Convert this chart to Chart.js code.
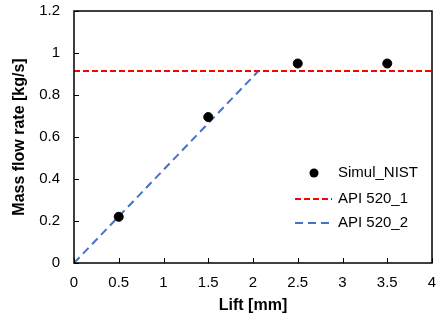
<!DOCTYPE html>
<html>
<head>
<meta charset="utf-8">
<script src="https://cdn.jsdelivr.net/npm/chart.js@4"></script>
<style>
  body { margin: 0; background: #fff; }
  #wrap { width: 447px; height: 321px; }
</style>
</head>
<body>
<div id="wrap"><canvas id="flowChart"></canvas></div>
<script>
const chartArea = document.getElementById("flowChart");

// data
var simLift = [0.5, 1.5, 2.5, 3.5];
var simFlow = [0.22, 0.695, 0.95, 0.95];
var api1Lift = [0, 4];
var api1Flow = [0.914, 0.914];
var api2Lift = [0, 2.06];
var api2Flow = [0, 0.914];
var seriesNames = ["Simul_NIST", "API 520_1", "API 520_2"];

function toPoints(xs, ys) {
    var pts = [];
    for (var i = 0; i < xs.length; i++) {
        pts.push({ x: xs[i], y: ys[i] });
    }
    return pts;
}

//plain number labels: 0, 0.5, 1 ...
function plainLabel(value) {
    return String(Math.round(value * 10) / 10);
}

//frame, inner ticks and the legend inside the plot
const framePlugin = {
    id: "frame",
    afterDraw(chart) {
        const ctx = chart.ctx;
        const a = chart.chartArea;
        const xs = chart.scales.x;
        const ys = chart.scales.y;
        ctx.save();
        ctx.strokeStyle = "#000";
        ctx.lineWidth = 1.5;
        ctx.strokeRect(a.left, a.top, a.right - a.left, a.bottom - a.top);
        ctx.lineWidth = 1;
        ctx.beginPath();
        xs.ticks.forEach(function (t) {
            var px = Math.round(xs.getPixelForValue(t.value)) + 0.5;
            ctx.moveTo(px, a.bottom);
            ctx.lineTo(px, a.bottom - 5);
        });
        ys.ticks.forEach(function (t) {
            var py = Math.round(ys.getPixelForValue(t.value)) + 0.5;
            ctx.moveTo(a.left, py);
            ctx.lineTo(a.left + 5, py);
        });
        ctx.stroke();

        // legend
        var ds = chart.data.datasets;
        var textX = 338;
        var rowY = [173, 199, 223];
        ctx.font = "15px 'Liberation Sans', Arial, sans-serif";
        ctx.textBaseline = "middle";
        for (var i = 0; i < ds.length; i++) {
            var y = rowY[i];
            if (i === 0) {
                ctx.beginPath();
                ctx.arc(314, y, 4.5, 0, Math.PI * 2);
                ctx.fillStyle = ds[i].backgroundColor;
                ctx.fill();
            } else {
                ctx.beginPath();
                ctx.setLineDash(ds[i].borderDash);
                ctx.strokeStyle = ds[i].borderColor;
                ctx.lineWidth = ds[i].borderWidth;
                ctx.moveTo(295, y);
                ctx.lineTo(332, y);
                ctx.stroke();
                ctx.setLineDash([]);
            }
            ctx.fillStyle = "#000";
            ctx.fillText(ds[i].label, textX, y);
        }
        ctx.restore();
    }
};

var flowChart = new Chart(chartArea, {
    type: "scatter",
    data: {
        datasets: [{
            label: seriesNames[0],
            data: toPoints(simLift, simFlow),
            backgroundColor: "#000",
            borderColor: "#000",
            pointRadius: 4.5,
            showLine: false
        }, {
            label: seriesNames[1],
            data: toPoints(api1Lift, api1Flow),
            borderColor: "#FF0000",
            borderWidth: 2,
            borderDash: [6, 3],
            pointRadius: 0,
            showLine: true
        }, {
            label: seriesNames[2],
            data: toPoints(api2Lift, api2Flow),
            borderColor: "#4472C4",
            borderWidth: 2,
            borderDash: [8, 5],
            pointRadius: 0,
            showLine: true
        }]
    },
    options: {
        responsive: true,
        maintainAspectRatio: false,
        animation: false,
        layout: { padding: { left: 0, right: 15, top: 11, bottom: 0 } },
        plugins: {
            legend: { display: false },
            tooltip: { enabled: false }
        },
        scales: {
            x: {
                type: "linear",
                min: 0,
                max: 4,
                ticks: {
                    stepSize: 0.5,
                    padding: 11,
                    color: "#000",
                    callback: plainLabel,
                    font: { family: "'Liberation Sans', Arial", size: 15 }
                },
                grid: { display: false, drawTicks: false },
                border: { display: false },
                title: {
                    display: true,
                    text: "Lift [mm]",
                    color: "#000",
                    padding: { top: 2, bottom: 6 },
                    font: { family: "'Liberation Sans', Arial", size: 16, weight: "bold" }
                },
                afterFit: function (s) {
                    s.height = 58;
                    s.paddingLeft = 0;
                    s.paddingRight = 0;
                }
            },
            y: {
                min: 0,
                max: 1.2,
                ticks: {
                    stepSize: 0.2,
                    padding: 14,
                    color: "#000",
                    callback: plainLabel,
                    font: { family: "'Liberation Sans', Arial", size: 15 }
                },
                grid: { display: false, drawTicks: false },
                border: { display: false },
                title: {
                    display: true,
                    text: "Mass flow rate [kg/s]",
                    color: "#000",
                    padding: { top: 10, bottom: 0 },
                    font: { family: "'Liberation Sans', Arial", size: 16, weight: "bold" }
                },
                afterFit: function (s) {
                    s.width = 74;
                    s.paddingTop = 0;
                    s.paddingBottom = 0;
                }
            }
        }
    },
    plugins: [framePlugin]
});
</script>
</body>
</html>
